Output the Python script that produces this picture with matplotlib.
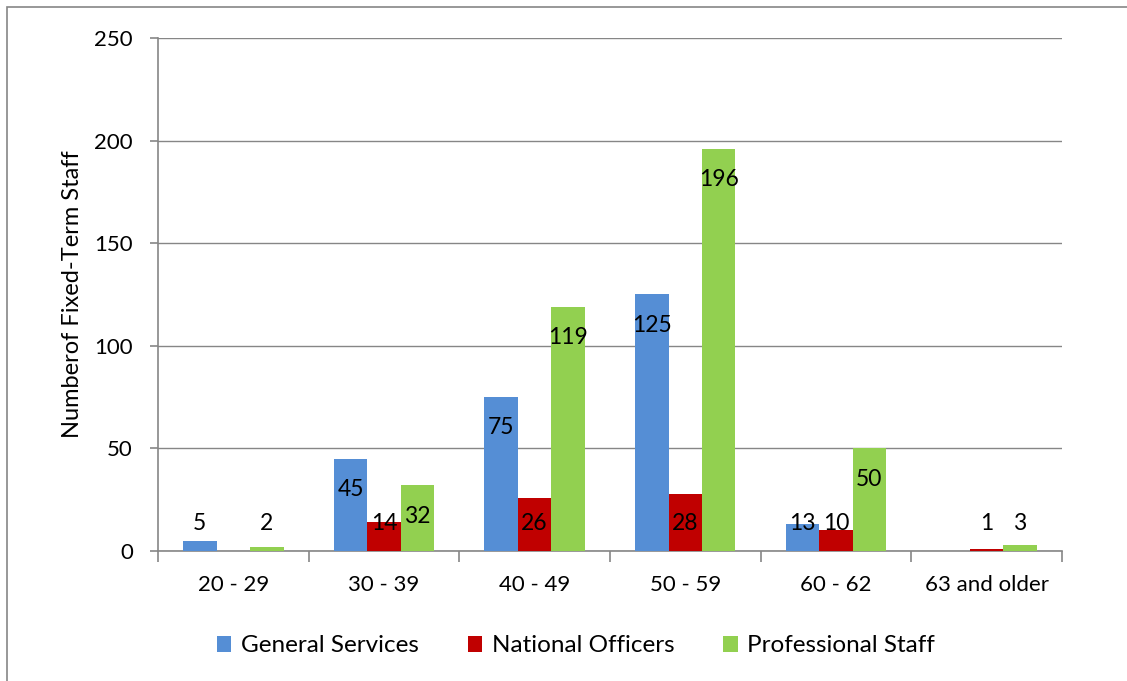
import numpy as np
import matplotlib
matplotlib.use('Agg')
import matplotlib.pyplot as plt
from matplotlib.patches import Rectangle

plt.rcParams['font.family'] = ['Lato', 'DejaVu Sans']

age_groups = ['20 - 29', '30 - 39', '40 - 49', '50 - 59', '60 - 62', '63 and older']
general_services = [5, 45, 75, 125, 13, 0]
national_officers = [0, 14, 26, 28, 10, 1]
professional_staff = [2, 32, 119, 196, 50, 3]
series_names = ['General Services', 'National Officers', 'Professional Staff']
colors = ['#558ED5', '#C00000', '#92D050']

fig = plt.figure(figsize=(11.27, 6.81), dpi=100)
ax = fig.add_axes([0.1402, 0.1909, 0.8021, 0.7533])

# outer chart border
fig.patches.append(Rectangle((7 / 1127, -0.1), 1.2, 1 - 7 / 681 + 0.1,
                             transform=fig.transFigure, fill=False,
                             edgecolor='#868686', linewidth=1.2))

x = np.arange(len(age_groups))
w = 0.222
all_series = [general_services, national_officers, professional_staff]
for i, (vals, name, c) in enumerate(zip(all_series, series_names, colors)):
    pos = x + (i - 1) * w
    ax.bar(pos, vals, width=w, color=c, label=name, zorder=3)
    for p, v in zip(pos, vals):
        if v == 0:
            continue
        # label sits inside the top of the bar, but never below the baseline row
        ypos = max(v - 15, 13.5)
        ax.text(p, ypos, str(v), ha='center', va='center', fontsize=16.5,
                color='black', zorder=4)

ax.set_xlim(-0.5, len(age_groups) - 0.5)
ax.set_ylim(0, 250)
ax.set_yticks(np.arange(0, 251, 50))
ax.grid(axis='y', color='#868686', linewidth=1, zorder=0)

ax.set_xticks(x)
ax.set_xticklabels(age_groups, fontsize=16)
ax.set_xticks(np.arange(-0.5, len(age_groups)), minor=True)
ax.tick_params(axis='x', which='major', length=0, pad=17)
ax.tick_params(axis='x', which='minor', length=8, color='#868686', width=1.2)
ax.tick_params(axis='y', length=6, color='#868686', width=1.2, labelsize=16, pad=12)

for s in ['top', 'right']:
    ax.spines[s].set_visible(False)
for s in ['left', 'bottom']:
    ax.spines[s].set_color('#868686')
    ax.spines[s].set_linewidth(1.2)

ax.set_ylabel('Numberof Fixed-Term Staff', fontsize=17, labelpad=8)

fig.legend(loc='center', bbox_to_anchor=(576 / 1127, 1 - 646 / 681), ncol=3,
           frameon=False, fontsize=17.5, handlelength=0.6, handleheight=0.6,
           handletextpad=0.4, columnspacing=2.0)

fig.savefig('out.png', dpi=100)
